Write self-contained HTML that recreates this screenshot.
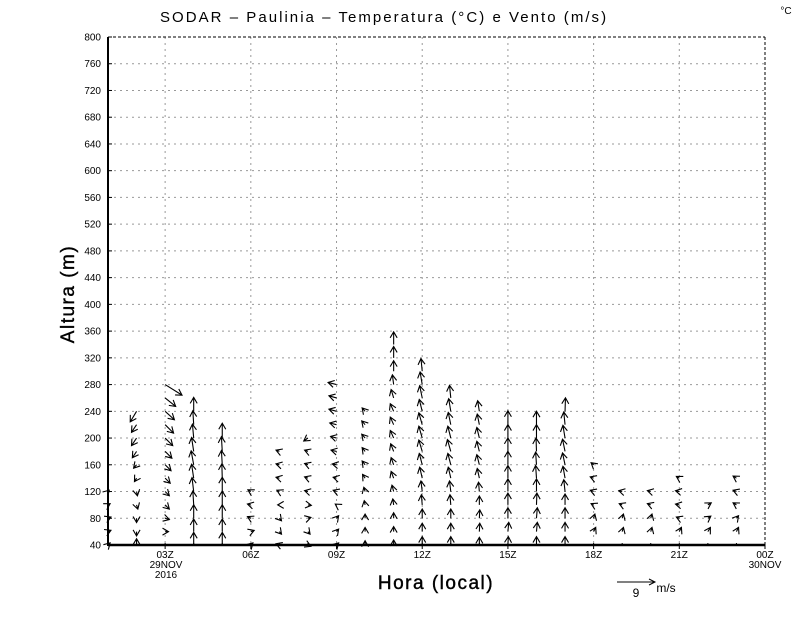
<!DOCTYPE html>
<html><head><meta charset="utf-8"><style>
body{margin:0;background:#fff;}
svg{display:block;font-family:"Liberation Sans",sans-serif;}
</style></head><body>
<svg id="chart" width="800" height="618" viewBox="0 0 800 618">
<rect x="0" y="0" width="800" height="618" fill="#fff"/>
<text x="384" y="22" font-size="15" text-anchor="middle" fill="#000" letter-spacing="1.9" textLength="448" lengthAdjust="spacing">SODAR – Paulinia – Temperatura (°C) e Vento (m/s)</text>
<text x="786" y="14" font-size="10" text-anchor="middle">°C</text>
<g id="grid"></g>
<g id="arrows"></g>
<g id="axes"></g>
<text transform="translate(74,294) rotate(-90)" font-size="19" text-anchor="middle" letter-spacing="1.5" stroke="#000" stroke-width="0.4">Altura (m)</text>
<text x="436" y="589" font-size="19" text-anchor="middle" letter-spacing="1.5" stroke="#000" stroke-width="0.4">Hora (local)</text>
<g>
<line x1="617" y1="582" x2="655" y2="582" stroke="#000" stroke-width="1"/>
<path d="M649,579 L655,582 L649,585" fill="none" stroke="#000"/>
<text x="636" y="597" font-size="12" text-anchor="middle">9</text>
<text x="666" y="592" font-size="12" text-anchor="middle">m/s</text>
</g>
</svg>
<script>
const yTicks=[40,80,120,160,200,240,280,320,360,400,440,480,520,560,600,640,680,720,760,800];
const xTickHours=[3,6,9,12,15,18,21,24];
const xTickLabels=["03Z","06Z","09Z","12Z","15Z","18Z","21Z","00Z"];
const colHours=[1,2,3,4,5,6,7,8,9,10,11,12,13,14,15,16,17,18,19,20,21,22,23];
const colBase=[40,40,60,40,40,40,40,40,40,40,40,40,40,40,40,40,40,60,60,60,60,60,60];
const colU=[
[0.5,0.7,0.7,0.5,0.3],
[0,0,0,0.3,0.2,-0.5,-0.7,-1,-1.2,-1.2,-1.5],
[0.8,1,1,1,1.2,1.4,1.6,1.8,2,2.2,2.5,4],
[0,0,0,-0.2,-0.4,-0.5,-0.6,-0.5,-0.3,-0.2,0],
[0,0,0,0,0,-0.1,-0.2,-0.2,0],
[0.5,0.8,-0.8,-0.8,-0.7],
[-0.8,0.5,0.5,-0.4,-0.6,-0.8,-0.8,-0.8],
[0.7,0.5,0.7,0.8,-0.8,-0.8,-0.8,-0.8,-1],
[0.5,0.5,0.5,-0.3,-0.8,-0.8,-1,-1.3,-1.4,-1.6,-1.8,-1.8,-2],
[0,0,0,-0.2,-0.3,-0.6,-0.7,-0.7,-0.8,-0.8,-0.7],
[0,0,0,-0.2,-0.4,-0.6,-0.6,-0.7,-0.8,-0.8,-0.8,-0.6,-0.3,0,0,0],
[0,0,0,-0.2,-0.3,-0.6,-0.7,-0.8,-0.8,-0.8,-0.7,-0.6,-0.5,-0.3],
[0,0,0,-0.2,-0.3,-0.6,-0.7,-0.8,-0.7,-0.6,-0.5,-0.3],
[0,0.1,0.1,0,-0.2,-0.5,-0.6,-0.6,-0.6,-0.5,-0.4],
[0.1,0.2,0,0,0,0,0,0,0,0],
[0,0.2,0.2,0.1,0,-0.2,-0.2,-0.1,0,0],
[0,0,0,0,-0.3,-0.5,-0.6,-0.6,-0.5,-0.3,0.1],
[0.5,0.3,-0.6,-0.8,-0.8,-0.6],
[0.3,0.3,-0.7,-0.8],
[0.3,0.3,-0.8,-0.8],
[0.5,-0.7,-0.9,-0.9,-0.7],
[0.6,0.7,0.8],
[0.5,0.5,-0.8,-0.8,-0.8]
];
const colV=[
[0.5,0.3,0.3,0.3,0.3],
[1.5,-1,-1,-1,-1,-0.8,-0.8,-1.5,-1.8,-1.8,-2.5],
[0,-0.3,-1,-1,-1.2,-1.4,-1.6,-1.8,-2,-2,-2,-2.5],
[3,3,3.2,3.3,3.3,3.3,3.3,3.3,3.3,3.3,3.3],
[3,3,3.2,3.3,3.4,3.4,3.4,3.5,3.5],
[0.5,0.3,0.4,0.2,0.4],
[0.3,-0.6,-0.6,0,0.3,0.2,0.2,0.3],
[-0.3,-0.6,0.2,-0.1,0.2,0.3,0.3,0.3,-0.7],
[0.5,0.6,0.6,0.2,0.3,0.2,0.2,0.3,0.4,0.4,0.5,0.5,0.5],
[1,1,1,1,1,0.9,0.9,0.9,0.9,0.9,0.8],
[1.2,1.2,1.3,1.4,1.5,1.6,1.7,1.8,1.8,1.8,1.8,2,2.3,2.5,2.7,3],
[2,2,2.2,2.4,2.5,2.6,2.7,2.7,2.8,2.8,2.8,2.9,3,3],
[2,2,2.2,2.4,2.5,2.6,2.7,2.8,2.8,2.9,3,3],
[1.8,2,2,2.1,2.2,2.3,2.4,2.4,2.5,2.5,2.5],
[2,2.2,2.5,2.8,3,3,3.2,3.2,3.2,3.3],
[2,2.2,2.5,2.8,3,3,3,3.2,3.2,3.2],
[2,2.2,2.5,2.6,2.8,2.8,2.8,2.9,3,3,3.2],
[1,1,0.3,0.3,0.3,0.5],
[1,1,0.3,0.2],
[1,1,0.3,0.2],
[1,0.3,0.2,0.2,0.4],
[1,0.5,0.5],
[1,0.6,0.5,0.3,0.5]
];
const NS="http://www.w3.org/2000/svg";
const X0=108,X1=765,Y0=545,Y1=37;
function xs(h){return X0+(h-1)/(24-1)*(X1-X0);}
function ys(m){return Y0-(m-40)/(800-40)*(Y0-Y1);}
const PXPER=38/9;
function mk(tag,attrs,parent){const e=document.createElementNS(NS,tag);for(const k in attrs)e.setAttribute(k,attrs[k]);parent.appendChild(e);return e;}
const grid=document.getElementById('grid'),axes=document.getElementById('axes'),arrows=document.getElementById('arrows');
yTicks.forEach(v=>{
  const y=ys(v);
  if(v>40&&v<800){const l=mk('line',{x1:X0,x2:X1,y1:y,y2:y,stroke:'#999','stroke-dasharray':'2,4','stroke-width':1},grid);
  
  }
  mk('line',{x1:X0,x2:X0+4,y1:y,y2:y,stroke:'#000'},axes);
  const tx=mk('text',{x:101,y:y+3.5,'font-size':10,'text-anchor':'end'},axes);tx.textContent=v;
  
  
});
xTickHours.forEach((h,i)=>{
  const x=xs(h);
  if(h<24){const l=mk('line',{x1:x,x2:x,y1:Y1,y2:Y0,stroke:'#999','stroke-dasharray':'2,4'},grid);
  
  }
  mk('line',{x1:x,x2:x,y1:Y0,y2:Y0+4,stroke:'#000'},axes);
  const tx=mk('text',{x:x,y:558,'font-size':10,'text-anchor':'middle'},axes);tx.textContent=xTickLabels[i];
  
  
});
[["29NOV",166,568],["2016",166,578],["30NOV",765,568]].forEach(d=>{const t=mk('text',{x:d[1],y:d[2],'font-size':10,'text-anchor':'middle'},axes);t.textContent=d[0];

});
for(let h=2;h<24;h++){mk('line',{x1:xs(h),x2:xs(h),y1:Y0,y2:Y0-2,stroke:'#000'},axes);}
mk('line',{x1:X0,x2:X1,y1:Y1,y2:Y1,stroke:'#000','stroke-dasharray':'3,2'},axes);
mk('line',{x1:X1,x2:X1,y1:Y1,y2:Y0,stroke:'#000','stroke-dasharray':'3,2'},axes);
mk('line',{x1:X0,x2:X0,y1:Y1,y2:Y0+1,stroke:'#000','stroke-width':2},axes);
mk('line',{x1:X0,x2:X1,y1:Y0,y2:Y0,stroke:'#000','stroke-width':2.5},axes);
colHours.forEach((h,c)=>{
  const us=colU[c],vs=colV[c];
  for(let k=0;k<us.length;k++){
    const lev=colBase[c]+20*k;
    const x=xs(h),y=ys(lev);
    const dx=us[k]*PXPER,dy=-vs[k]*PXPER;
    const x2=x+dx,y2=y+dy;
    const len=Math.hypot(dx,dy)||1;
    const ux=dx/len,uy=dy/len,hl=6,hw=3.5;
    const bx=x2-ux*hl,by=y2-uy*hl;
    const g=mk('path',{d:`M${x},${y}L${x2},${y2}M${bx-uy*hw},${by+ux*hw}L${x2},${y2}L${bx+uy*hw},${by-ux*hw}`,fill:'none',stroke:'#000','stroke-width':1.1},arrows);
    
    
  }
});
</script>
</body></html>
